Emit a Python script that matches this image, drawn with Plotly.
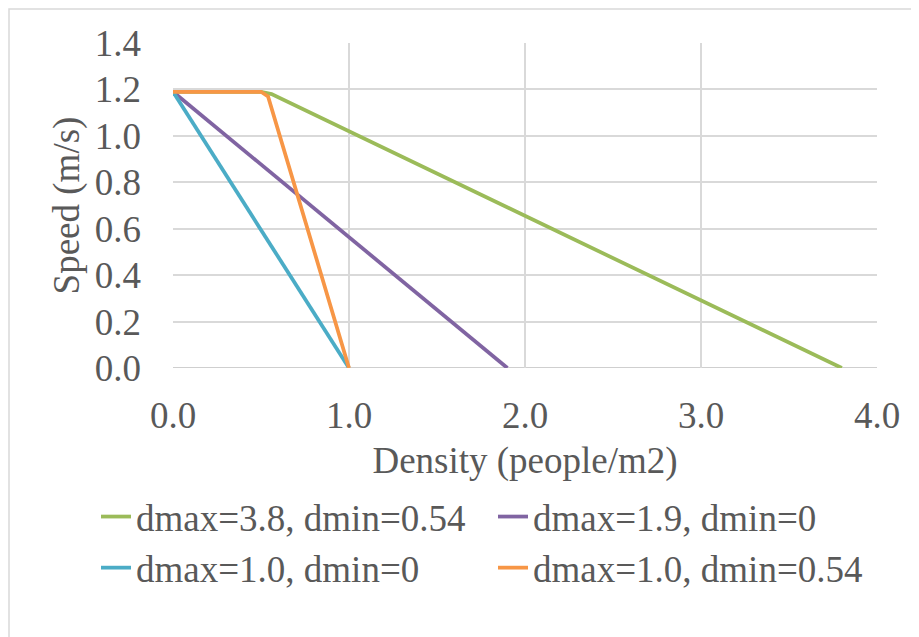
import plotly.graph_objects as go

# Data
series_names = ["dmax=3.8, dmin=0.54", "dmax=1.9, dmin=0",
                "dmax=1.0, dmin=0", "dmax=1.0, dmin=0.54"]
green_x = [0.0, 0.5, 0.56, 3.8]
green_y = [1.19, 1.19, 1.18, 0.0]
purple_x = [0.0, 1.9]
purple_y = [1.19, 0.0]
blue_x = [0.0, 1.0]
blue_y = [1.19, 0.0]
orange_x = [0.0, 0.5, 0.54, 1.0]
orange_y = [1.19, 1.19, 1.17, 0.0]
colors = ["#9BBB59", "#8064A2", "#4BACC6", "#F79646"]
x_ticks = [0, 1, 2, 3, 4]
y_ticks = [0, 0.2, 0.4, 0.6, 0.8, 1.0, 1.2, 1.4]

W, H = 919, 637
L, R, T, B = 165, 50, 35, 277
pw, ph = W - L - R, H - T - B

fig = go.Figure()
for name, xs, ys, c in zip(series_names,
                           [green_x, purple_x, blue_x, orange_x],
                           [green_y, purple_y, blue_y, orange_y], colors):
    fig.add_trace(go.Scatter(x=xs, y=ys, mode="lines", name=name,
                             line=dict(color=c, width=3.75)))

FAM = "Liberation Serif, Times New Roman, serif"
COL = "#595959"
FS = 37

def px2x(p):
    return (p - L) / pw

def py2y(p):
    return (H - B - p) / ph

# outer chart border
fig.add_shape(type="rect", xref="paper", yref="paper",
              x0=px2x(1), x1=px2x(960), y0=py2y(680), y1=py2y(1),
              line=dict(color="#D9D9D9", width=1.5), layer="below")

fig.update_layout(
    width=W, height=H,
    margin=dict(l=L, r=R, t=T, b=B, autoexpand=False),
    plot_bgcolor="white", paper_bgcolor="white",
    font=dict(family=FAM, size=FS, color=COL),
    xaxis=dict(range=[0, 4], tickvals=x_ticks, tickformat=".1f",
               showgrid=True, gridcolor="#D9D9D9", gridwidth=1.5,
               zeroline=False, showline=False, ticks="",
               ticklabelstandoff=22,
               tickfont=dict(family=FAM, size=FS, color=COL),
               title=dict(text="Density (people/m2)",
                          font=dict(family=FAM, size=FS, color=COL),
                          standoff=12)),
    yaxis=dict(range=[0, 1.4], tickvals=y_ticks, tickformat=".1f",
               showgrid=True, gridcolor="#D9D9D9", gridwidth=1.5,
               zeroline=False, showline=False, ticks="",
               ticklabelstandoff=31,
               tickfont=dict(family=FAM, size=FS, color=COL),
               title=dict(text="Speed (m/s)",
                          font=dict(family=FAM, size=FS, color=COL),
                          standoff=3)),
    legend=dict(orientation="h", xref="paper", yref="paper",
                x=px2x(88), xanchor="left",
                y=py2y(478), yanchor="top",
                entrywidth=352, entrywidthmode="pixels",
                font=dict(family=FAM, size=FS, color=COL),
                itemwidth=30, tracegroupgap=0, bgcolor="rgba(0,0,0,0)"),
    showlegend=True,
)
# bottom axis line
fig.add_shape(type="line", xref="paper", yref="y", x0=0, x1=1, y0=0, y1=0,
              line=dict(color="#BFBFBF", width=1.5), layer="below")

fig.write_html("out.html")
